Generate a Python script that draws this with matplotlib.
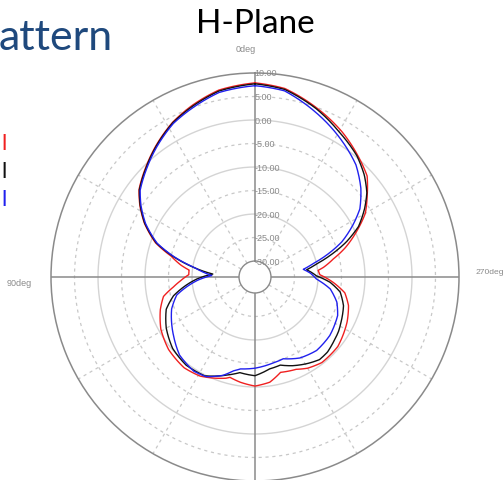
import numpy as np
import matplotlib.pyplot as plt

# H-plane pattern, three measurements (deg, dB)
theta_red = [0, 11, 20, 28, 37, 45, 53, 58, 64, 71, 76, 81, 84, 88, 93, 97, 102, 109, 119,
             130, 142, 151, 158, 164, 166, 172, 180, 188, 195, 204, 210, 218, 230, 244, 253,
             260, 266, 272, 276, 278, 283, 288, 294, 300, 306, 312, 320, 329, 340, 351]
db_red = [7.9, 7.1, 5.5, 3.9, 1.6, -0.5, -2.5, -4.5, -7.2, -11.0, -15.0, -17.5, -19.3, -19.3,
          -17.5, -15.9, -13.5, -12.1, -10.5, -9.4, -8.9, -9.3, -10.2, -11.0, -11.4, -10.8,
          -10.2, -10.8, -12.4, -11.9, -11.0, -10.3, -10.4, -11.6, -12.6, -14.0, -16.7, -19.6,
          -19.9, -18.7, -16.3, -13.2, -9.8, -6.3, -3.9, -1.3, 0.5, 2.6, 4.9, 7.2]

theta_black = [0, 11, 20, 28, 37, 45, 53, 58, 64, 71, 76, 81, 86, 92, 103, 110, 120, 131, 142,
               153, 160, 164, 171, 180, 189, 196, 203, 211, 218, 224, 230, 237, 242, 252, 260,
               266, 271, 278, 282, 286, 291, 296, 302, 307, 313, 320, 330, 340, 351]
db_black = [7.7, 6.9, 5.3, 3.8, 1.5, -0.6, -2.6, -4.6, -7.3, -11.2, -15.5, -20.1, -24.4, -21.0,
            -15.6, -13.3, -11.6, -10.2, -9.6, -9.8, -11.0, -11.7, -12.8, -12.4, -13.6, -13.9,
            -12.9, -11.9, -11.1, -11.2, -11.7, -12.2, -12.7, -13.6, -15.0, -17.4, -20.3, -22.3,
            -20.0, -16.8, -12.6, -8.9, -5.9, -3.6, -1.6, 0.3, 2.3, 4.7, 7.0]

theta_blue = [0, 11, 20, 28, 37, 45, 53, 58, 64, 71, 76, 81, 88, 93, 103, 111, 126, 136, 147,
              154, 162, 167, 171, 180, 190, 199, 209, 220, 232, 245, 253, 261, 268, 274, 279,
              283, 287, 292, 298, 303, 310, 318, 328, 340, 351]
db_blue = [7.3, 6.6, 5.0, 3.6, 1.3, -0.8, -2.8, -4.8, -7.5, -11.4, -15.7, -20.3, -24.2, -21.3,
           -16.3, -14.4, -12.0, -10.3, -9.5, -9.8, -11.4, -12.9, -13.6, -14.0, -14.6, -15.0,
           -13.7, -13.0, -13.2, -14.0, -15.2, -17.2, -20.3, -21.6, -23.0, -20.7, -17.5, -13.5,
           -9.8, -6.8, -4.0, -1.3, 1.1, 4.0, 6.7]

ring_levels = [10, 5, 0, -5, -10, -15, -20, -25, -30]
angle_labels = ['0deg', '90deg', '270deg']

W, H = 504, 481


def fx(x):
    return x / W


def fy(y):
    return 1 - y / H


def closed(th, r):
    th = np.deg2rad(list(th) + [th[0] + 360])
    return th, list(r) + [r[0]]


fig = plt.figure(figsize=(W / 100, H / 100), dpi=100)
ax = fig.add_axes([fx(51), fy(482), 408 / W, 408 / H], projection='polar')
ax.set_theta_zero_location('N')
ax.set_theta_direction(1)
ax.set_rlim(-30, 10)
ax.set_rorigin(-33.4)
ax.grid(False)
ax.set_xticks([])
ax.set_yticks([])
ax.spines['polar'].set_color('#8a8a8a')
ax.spines['polar'].set_linewidth(1.1)
ax.spines['inner'].set_color('#8a8a8a')
ax.spines['inner'].set_linewidth(1.0)

t = np.linspace(0, 2 * np.pi, 361)
for lev in ring_levels[1:-1]:
    if lev % 10 == 0:
        ax.plot(t, np.full_like(t, lev), color='#d4d4d4', lw=1.0, zorder=1)
    else:
        ax.plot(t, np.full_like(t, lev), color='#c8c8c8', lw=0.9, ls=(0, (2.5, 3)), zorder=1)

for a in range(0, 360, 30):
    rad = np.deg2rad(a)
    if a % 90 == 0:
        ax.plot([rad, rad], [-30, 10], color='#8a8a8a', lw=1.1, zorder=2)
    else:
        ax.plot([rad, rad], [-30, 10], color='#c8c8c8', lw=0.9, ls=(0, (2.5, 3)), zorder=1)

for lev in ring_levels:
    ax.annotate(f"{lev:.2f}", xy=(0, lev), xytext=(-0.5, 0), textcoords='offset points',
                ha='left', va='center', fontsize=6.5, color='#8a8a8a',
                family='Liberation Sans', annotation_clip=False, zorder=3)

series = [(theta_red, db_red, '#f02020', 4),
          (theta_black, db_black, '#111111', 5),
          (theta_blue, db_blue, '#2020ee', 6)]
for th, db, c, z in series:
    ln, = ax.plot(*closed(th, db), color=c, lw=1.0, zorder=z)
    # follow arcs in polar space instead of straight chords
    ln.get_path()._interpolation_steps = 20

lab_kw = dict(color='#8a8a8a', family='Liberation Sans', va='center')
fig.text(fx(246), fy(50), angle_labels[0], ha='center', fontsize=6.5, **lab_kw)
fig.text(fx(7), fy(284), angle_labels[1], ha='left', fontsize=6.5, **lab_kw)
fig.text(fx(476), fy(272), angle_labels[2], ha='left', fontsize=6.1, **lab_kw)

fig.text(fx(255), fy(33), 'H-Plane', ha='center', va='baseline', fontsize=24,
         family='Lato', color='black')
fig.text(fx(-1), fy(50), 'attern', ha='left', va='baseline', fontsize=31,
         family='Lato', color='#1f497d')

# legend entries, only their last letters show at the left border
for y, c in zip([150, 178, 206], ['#f02020', '#111111', '#2020ee']):
    fig.text(fx(1), fy(y), 'l', ha='left', va='baseline', fontsize=16,
             family='Lato', color=c)

fig.savefig('out.png', dpi=100)
